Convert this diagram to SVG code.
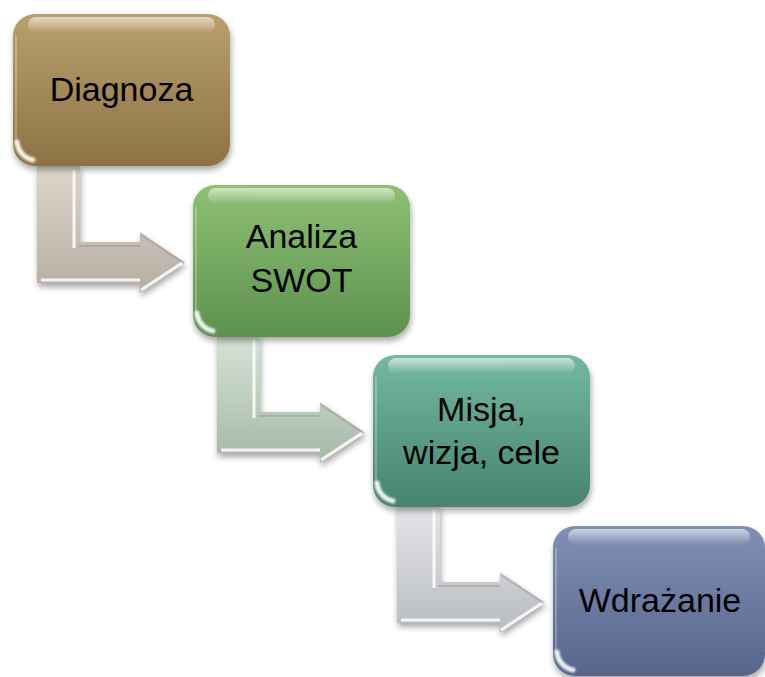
<svg xmlns="http://www.w3.org/2000/svg" width="765" height="677" viewBox="0 0 765 677">
  <defs>
    <linearGradient id="g1" x1="0" y1="0" x2="0" y2="1">
      <stop offset="0" stop-color="#BA9F6E"/>
      <stop offset="1" stop-color="#8D7244"/>
    </linearGradient>
    <linearGradient id="g2" x1="0" y1="0" x2="0" y2="1">
      <stop offset="0" stop-color="#8EC073"/>
      <stop offset="1" stop-color="#5D9150"/>
    </linearGradient>
    <linearGradient id="g3" x1="0" y1="0" x2="0" y2="1">
      <stop offset="0" stop-color="#73B8A1"/>
      <stop offset="1" stop-color="#47836D"/>
    </linearGradient>
    <linearGradient id="g4" x1="0" y1="0" x2="0" y2="1">
      <stop offset="0" stop-color="#808FB3"/>
      <stop offset="1" stop-color="#57658D"/>
    </linearGradient>
    <linearGradient id="a1" x1="0" y1="0" x2="0" y2="1">
      <stop offset="0" stop-color="#DDD5C9"/>
      <stop offset="1" stop-color="#B6AEA3"/>
    </linearGradient>
    <linearGradient id="a2" x1="0" y1="0" x2="0" y2="1">
      <stop offset="0" stop-color="#D5E3D5"/>
      <stop offset="1" stop-color="#A6B8A8"/>
    </linearGradient>
    <linearGradient id="a3" x1="0" y1="0" x2="0" y2="1">
      <stop offset="0" stop-color="#E3E5E8"/>
      <stop offset="1" stop-color="#B8BBC1"/>
    </linearGradient>
    <linearGradient id="hl" x1="0" y1="0" x2="0" y2="1">
      <stop offset="0" stop-color="#FFFFFF" stop-opacity="0.6"/>
      <stop offset="1" stop-color="#FFFFFF" stop-opacity="0"/>
    </linearGradient>
    <filter id="sh" x="-20%" y="-20%" width="140%" height="150%">
      <feGaussianBlur in="SourceAlpha" stdDeviation="3"/>
      <feOffset dx="1" dy="4" result="b"/>
      <feComponentTransfer><feFuncA type="linear" slope="0.35"/></feComponentTransfer>
      <feMerge><feMergeNode/><feMergeNode in="SourceGraphic"/></feMerge>
    </filter>
    <filter id="soft" x="-50%" y="-50%" width="200%" height="200%">
      <feGaussianBlur stdDeviation="1.2"/>
    </filter>
    <path id="arrow" d="M0,0 H43 V76 H103 V66 L148,96.5 L103,127 V117 H0 Z"/>
    <path id="glintp" d="M4,128 A20,20 0 0 0 20,146"/>
  </defs>
  <style>
    .lbl { font-family: "Liberation Sans", Arial, sans-serif; font-size: 34px; fill: #000; text-anchor: middle; }
    .hi { fill: url(#hl); }
    .gl { fill: none; stroke: #FFFFFF; stroke-width: 5; stroke-linecap: round; stroke-opacity: 0.9; }
    .le { fill: none; stroke: #FFFFFF; stroke-width: 2; stroke-opacity: 0.25; }
    .bev { fill: none; stroke: #FFFFFF; stroke-opacity: 0.85; stroke-width: 3; }
    .bevd { fill: none; stroke: #8E877E; stroke-opacity: 0.35; stroke-width: 2; }
  </style>

  <g id="connectors">
    <g id="arrow1" transform="translate(37,166)" filter="url(#sh)">
      <use href="#arrow" fill="url(#a1)"/>
      <path class="bev" d="M37,4 V82"/>
      <path class="bev" d="M4,114 H103"/>
      <path class="bev" d="M104,124 L145,97"/>
      <path class="bevd" d="M104,69 L145,96"/>
      <path class="bevd" d="M41,80 H103"/>
    </g>
    <g id="arrow2" transform="translate(217,336)" filter="url(#sh)">
      <use href="#arrow" fill="url(#a2)"/>
      <path class="bev" d="M37,4 V82"/>
      <path class="bev" d="M4,114 H103"/>
      <path class="bev" d="M104,124 L145,97"/>
      <path class="bevd" d="M104,69 L145,96"/>
      <path class="bevd" d="M41,80 H103"/>
    </g>
    <g id="arrow3" transform="translate(397,506)" filter="url(#sh)">
      <use href="#arrow" fill="url(#a3)"/>
      <path class="bev" d="M37,4 V82"/>
      <path class="bev" d="M4,114 H103"/>
      <path class="bev" d="M104,124 L145,97"/>
      <path class="bevd" d="M104,69 L145,96"/>
      <path class="bevd" d="M41,80 H103"/>
    </g>
  </g>

  <g id="node1">
    <rect x="13" y="14" width="217" height="152" rx="22" fill="url(#g1)" filter="url(#sh)"/>
    <rect class="hi" x="28" y="17" width="187" height="16" rx="8"/>
    <path class="le" d="M16,36 V144"/>
    <use href="#glintp" class="gl" transform="translate(13,14)" filter="url(#soft)"/>
    <text class="lbl" x="121.5" y="101">Diagnoza</text>
  </g>

  <g id="node2">
    <rect x="193" y="185" width="217" height="152" rx="22" fill="url(#g2)" filter="url(#sh)"/>
    <rect class="hi" x="208" y="188" width="187" height="16" rx="8"/>
    <path class="le" d="M196,207 V315"/>
    <use href="#glintp" class="gl" transform="translate(193,185)" filter="url(#soft)"/>
    <text class="lbl" x="301.5" y="248">Analiza</text>
    <text class="lbl" x="301.5" y="292">SWOT</text>
  </g>

  <g id="node3">
    <rect x="373" y="355" width="217" height="152" rx="22" fill="url(#g3)" filter="url(#sh)"/>
    <rect class="hi" x="388" y="358" width="187" height="16" rx="8"/>
    <path class="le" d="M376,377 V485"/>
    <use href="#glintp" class="gl" transform="translate(373,355)" filter="url(#soft)"/>
    <text class="lbl" x="481.5" y="421">Misja,</text>
    <text class="lbl" x="481.5" y="464">wizja, cele</text>
  </g>

  <g id="node4">
    <rect x="553" y="526" width="212" height="150" rx="22" fill="url(#g4)" filter="url(#sh)"/>
    <rect class="hi" x="568" y="529" width="182" height="16" rx="8"/>
    <path class="le" d="M556,548 V654"/>
    <use href="#glintp" class="gl" transform="translate(553,524)" filter="url(#soft)"/>
    <text class="lbl" x="660" y="612">Wdrażanie</text>
  </g>
</svg>
